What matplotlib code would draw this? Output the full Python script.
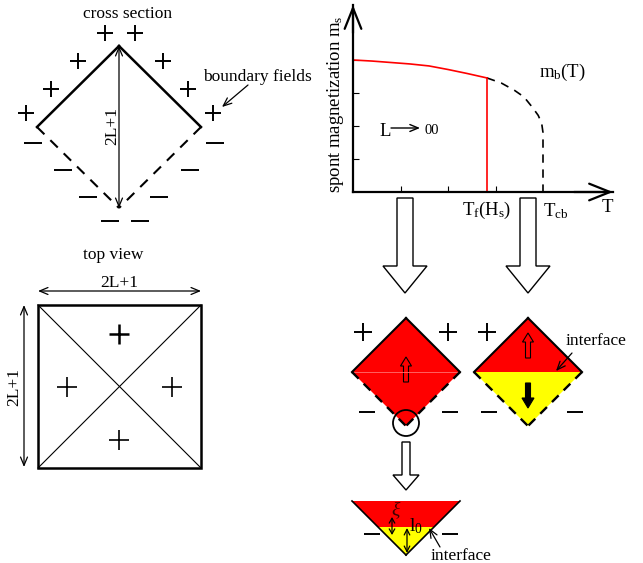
import matplotlib
matplotlib.use('Agg')
import matplotlib.pyplot as plt
from matplotlib.patches import Polygon, Circle, FancyArrow, Rectangle

plt.rcParams['font.family'] = 'Liberation Serif'
plt.rcParams['mathtext.fontset'] = 'custom'
plt.rcParams['mathtext.rm'] = 'Liberation Serif'
plt.rcParams['mathtext.it'] = 'Liberation Serif:italic'

# spontaneous magnetization vs T (T in units of T_cb, m in units of m(0))
T_red = [0.0, 0.1, 0.2, 0.3, 0.4, 0.5, 0.6, 0.705]
m_red = [1.0, 0.992, 0.981, 0.970, 0.955, 0.928, 0.898, 0.864]
T_dash = [0.705, 0.78, 0.85, 0.9, 0.945, 0.975, 0.993, 1.0, 1.0]
m_dash = [0.864, 0.826, 0.77, 0.72, 0.64, 0.58, 0.52, 0.45, 0.0]
T_f = 0.705
x_ticks = [0.25, 0.5, 0.75]
y_ticks = [0.25, 0.5, 0.75, 1.0]

W, H = 643, 563
fig = plt.figure(figsize=(W / 100, H / 100), dpi=100)
ax = fig.add_axes([0, 0, 1, 1])
ax.set_xlim(0, W)
ax.set_ylim(H, 0)
ax.axis('off')


def seg(x0, y0, x1, y1, **kw):
    kw.setdefault('color', 'k')
    ax.plot([x0, x1], [y0, y1], **kw)


def darrow(p0, p1, lw=0.9, hl=0.6, hw=0.25):
    ax.annotate('', xy=p1, xytext=p0,
                arrowprops=dict(arrowstyle=f'<->,head_length={hl},head_width={hw}',
                                lw=lw, color='k', shrinkA=0, shrinkB=0))


def arrow(p0, p1, lw=0.9):
    ax.annotate('', xy=p1, xytext=p0,
                arrowprops=dict(arrowstyle='->,head_length=0.6,head_width=0.25',
                                lw=lw, color='k', shrinkA=0, shrinkB=0))


def plus(xs, ys, ms=12, mew=1.4):
    ax.plot(xs, ys, '+', color='k', ms=ms, mew=mew, ls='none')


def minus(xs, ys, ms=13, mew=1.4):
    ax.plot(xs, ys, '_', color='k', ms=ms, mew=mew, ls='none')


DASH = (0, (5, 4))
FS = 12.5

# ---- cross section ----
ax.text(128, 14, 'cross section', ha='center', va='center', fontsize=FS)
cx, top, mid, bot, half = 119, 46, 127, 208, 82
seg(cx - half, mid, cx, top, lw=1.8)
seg(cx, top, cx + half, mid, lw=1.8)
seg(cx - half, mid, cx, bot, lw=1.5, ls=DASH)
seg(cx + half, mid, cx, bot, lw=1.5, ls=DASH)
darrow((cx, top), (cx, bot))
ax.text(112, 126, '2L+1', rotation=90, ha='center', va='center', fontsize=FS)
plus([105, 135, 78, 163, 51, 188, 26, 213], [33, 33, 61, 61, 89, 89, 113, 113])
minus([33, 215, 63, 190, 88, 159, 110, 140], [143, 143, 170, 170, 197, 197, 221, 221])
ax.text(257, 77, 'boundary fields', ha='center', va='center', fontsize=FS)
arrow((248, 85), (222, 107))

# ---- top view ----
ax.text(113, 255, 'top view', ha='center', va='center', fontsize=FS)
ax.add_patch(Rectangle((38, 305), 163, 163, fill=False, ec='k', lw=1.8))
seg(38, 305, 201, 468, lw=0.8)
seg(38, 468, 201, 305, lw=0.8)
darrow((38, 291), (201, 291))
ax.text(119, 283, '2L+1', ha='center', va='center', fontsize=FS)
darrow((24, 305), (24, 467))
ax.text(14, 387, '2L+1', rotation=90, ha='center', va='center', fontsize=FS)
plus([119], [334], ms=14, mew=1.8)
plus([67, 172, 119], [387, 387, 440], ms=14, mew=1.2)

# ---- magnetization graph ----
gx = fig.add_axes([353 / W, 1 - 192 / H, 260 / W, 187 / H])
gx.patch.set_alpha(0)
gx.set_xlim(0, 260 / 190)
gx.set_ylim(0, 187 / 132)
for s in ['top', 'right']:
    gx.spines[s].set_visible(False)
for s in ['left', 'bottom']:
    gx.spines[s].set_linewidth(1.6)
gx.set_xticks(x_ticks)
gx.set_yticks(y_ticks)
gx.tick_params(direction='in', length=4, width=0.8, labelbottom=False, labelleft=False)
gx.plot(T_red, m_red, color='red', lw=1.2)
gx.plot(T_dash, m_dash, color='k', lw=1.2, ls=DASH)
gx.plot([T_f, T_f], [0, m_red[-1]], color='red', lw=1.2)
head = dict(arrowstyle='->,head_length=0.75,head_width=0.3', lw=1.6, color='k',
            shrinkA=0, shrinkB=0, mutation_scale=20)
gx.annotate('', xy=(0, 1), xytext=(0, 0.85), xycoords='axes fraction', arrowprops=head)
gx.annotate('', xy=(1, 0), xytext=(0.85, 0), xycoords='axes fraction', arrowprops=head)

ax.text(335, 104, r'spont magnetization m$_\mathrm{s}$', rotation=90,
        ha='center', va='center', fontsize=13.5)
ax.text(562, 72, r'm$_\mathrm{b}$(T)', ha='center', va='center', fontsize=13.5)
ax.text(385, 131, 'L', ha='center', va='center', fontsize=13.5)
arrow((391, 128), (420, 128), lw=1.0)
ax.text(432, 130, '00', ha='center', va='center', fontsize=10.5)
ax.text(487, 210, r'T$_\mathrm{f}$(H$_\mathrm{s}$)', ha='center', va='center', fontsize=13.5)
ax.text(556, 211, r'T$_\mathrm{cb}$', ha='center', va='center', fontsize=13.5)
ax.text(607, 208, 'T', ha='center', va='center', fontsize=13.5)

# ---- hollow arrows ----
for x in [405, 528]:
    ax.add_patch(FancyArrow(x, 198, 0, 95, width=16, head_width=44, head_length=27,
                            length_includes_head=True, fc='white', ec='k', lw=1.0))
ax.add_patch(FancyArrow(406, 442, 0, 48, width=8, head_width=26, head_length=15,
                        length_includes_head=True, fc='white', ec='k', lw=1.0))

# ---- diamonds ----
RED = '#ff0000'
YEL = '#ffff00'
d = 54
lx, rx, cy = 406, 528, 372
ax.add_patch(Polygon([(lx, cy - d), (lx + d, cy), (lx, cy + d), (lx - d, cy)], fc=RED, ec='none'))
seg(lx - d, cy, lx + d, cy, color='#ff7070', lw=0.6)
ax.add_patch(Polygon([(rx, cy - d), (rx + d, cy), (rx - d, cy)], fc=RED, ec='none'))
ax.add_patch(Polygon([(rx - d, cy), (rx + d, cy), (rx, cy + d)], fc=YEL, ec='none'))
for x in [lx, rx]:
    seg(x - d, cy, x, cy - d, lw=1.5)
    seg(x, cy - d, x + d, cy, lw=1.5)
    seg(x - d, cy, x, cy + d, lw=1.7, ls=(0, (4, 3)))
    seg(x + d, cy, x, cy + d, lw=1.7, ls=(0, (4, 3)))

ax.add_patch(FancyArrow(lx, 382, 0, -25, width=5, head_width=11, head_length=9,
                        length_includes_head=True, fc=RED, ec='k', lw=0.8))
ax.add_patch(FancyArrow(rx, 358, 0, -25, width=5, head_width=11, head_length=9,
                        length_includes_head=True, fc=RED, ec='k', lw=0.8))
ax.add_patch(FancyArrow(rx, 383, 0, 25, width=5, head_width=12, head_length=10,
                        length_includes_head=True, fc='k', ec='k', lw=0.8))
ax.add_patch(Circle((lx, 423), 13, fill=False, ec='k', lw=1.3))

plus([363, 448, 487], [332, 332, 332], ms=13)
minus([367, 450, 489, 575], [412, 412, 412, 412], ms=12)

ax.text(596, 341, 'interface', ha='center', va='center', fontsize=FS)
arrow((572, 353), (556, 371))

# ---- enlarged bottom corner ----
yt, yi, ya = 501, 527, 555
ax.add_patch(Polygon([(lx - (ya - yt), yt), (lx + (ya - yt), yt), (lx + (ya - yi), yi),
                      (lx - (ya - yi), yi)], fc=RED, ec='none'))
ax.add_patch(Polygon([(lx - (ya - yi), yi), (lx + (ya - yi), yi), (lx, ya)], fc=YEL, ec='none'))
seg(lx - (ya - yt), yt, lx, ya, lw=1.2)
seg(lx + (ya - yt), yt, lx, ya, lw=1.2)
minus([372, 450], [534, 534], ms=12)
darrow((392, 517), (392, 535), lw=0.9, hl=0.35, hw=0.2)
ax.text(396, 510, r'$\xi$', ha='center', va='center', fontsize=14, color='#400000')
darrow((407, 528), (407, 553), lw=0.9, hl=0.4, hw=0.2)
ax.text(416, 526, r'l$_\mathrm{0}$', ha='center', va='center', fontsize=14)
ax.text(461, 556, 'interface', ha='center', va='center', fontsize=FS)
arrow((440, 547), (429, 528))

fig.savefig('out.png', dpi=100)
